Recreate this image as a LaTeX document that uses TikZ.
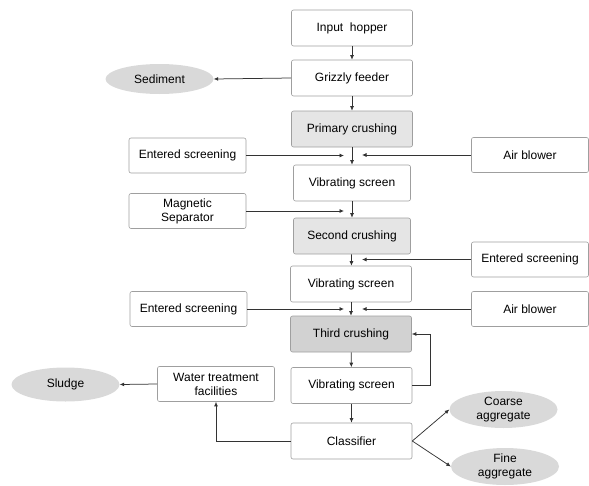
\documentclass[tikz,border=0pt]{standalone}
\usepackage{fontspec}
\setmainfont{Liberation Sans}
\usetikzlibrary{arrows.meta,shapes.geometric}

\begin{document}
\begin{tikzpicture}[
			x=1pt, y=-1pt,
			font=\fontsize{12}{14}\selectfont,
			box/.style={draw=gray!75, rounded corners=2pt, line width=0.6pt, fill=white,
					minimum width=121pt, minimum height=36pt, inner sep=1pt, align=center},
			side box/.style={box, minimum width=117pt, minimum height=35pt},
			crush/.style={box, fill=gray!20},
			crush dark/.style={box, fill=gray!35},
			blob/.style={ellipse, fill=gray!30, minimum width=108pt, minimum height=34pt,
					inner sep=0pt, align=center},
			flow/.style={-{Latex[length=4.5pt,width=4pt]}, line width=0.75pt, draw=black!80}
		]
		\useasboundingbox (0,0) rectangle (589,485);
		% main line
		\node[box] (hopper) at (352,28) {Input\ \ hopper};
		\node[box] (grizzly) at (352,78) {Grizzly feeder};
		\node[crush] (primary) at (352,129) {Primary crushing};
		\node[box, minimum width=117pt] (vs1) at (352,183) {Vibrating screen};
		\node[crush, minimum width=117pt] (second) at (352,236) {Second crushing};
		\node[box] (vs2) at (351,284) {Vibrating screen};
		\node[crush dark] (third) at (351,334) {Third crushing};
		\node[box] (vs3) at (351.5,385.5) {Vibrating screen};
		\node[box] (classifier) at (351.5,441) {Classifier};
		% side inputs
		\node[side box] (entered1) at (187.5,155.5) {Entered screening};
		\node[side box] (blower1) at (530,155) {Air blower};
		\node[side box] (magnetic) at (187.5,211) {Magnetic\\Separator};
		\node[side box] (entered2) at (530,259.5) {Entered screening};
		\node[side box] (entered3) at (188.5,309) {Entered screening};
		\node[side box] (blower2) at (530,309) {Air blower};
		\node[side box] (water) at (216,384) {Water treatment\\facilities};
		% outputs
		\node[blob, minimum height=30pt] (sediment) at (159.5,79) {Sediment};
		\node[blob] (sludge) at (65.5,384.5) {Sludge};
		\node[blob, minimum height=37pt] (coarse) at (503.5,409.5) {Coarse\\aggregate};
		\node[blob, minimum height=37pt] (fine) at (505,466.5) {Fine\\aggregate};
		% arrow ends beside the main line
		\coordinate (inL) at (344,0);
		\coordinate (inR) at (362,0);

		\draw[flow] (hopper) -- (grizzly);
		\draw[flow] (grizzly) -- (primary);
		\draw[flow] (grizzly.west) -- (sediment.east);
		\draw[flow] (primary) -- (vs1);
		\draw[flow] (entered1.east) -- (entered1.east -| inL);
		\draw[flow] (blower1.west) -- (blower1.west -| inR);
		\draw[flow] (vs1) -- (second);
		\draw[flow] (magnetic.east) -- (magnetic.east -| inL);
		\draw[flow] (second) -- (vs2);
		\draw[flow] (entered2.west) -- (entered2.west -| inR);
		\draw[flow] (vs2) -- (third);
		\draw[flow] (entered3.east) -- (entered3.east -| inL);
		\draw[flow] (blower2.west) -- (blower2.west -| inR);
		\draw[flow] (third) -- (vs3);
		\draw[flow] (vs3.east) -- ++(18,0) |- (third.east);
		\draw[flow] (vs3) -- (classifier);
		\draw[flow] (classifier.west) -| (water.south);
		\draw[flow] (water.west) -- (sludge.east);
		\draw[flow] (classifier.east) -- (coarse.west);
		\draw[flow] (classifier.east) -- (fine.west);
	\end{tikzpicture}
\end{document}
